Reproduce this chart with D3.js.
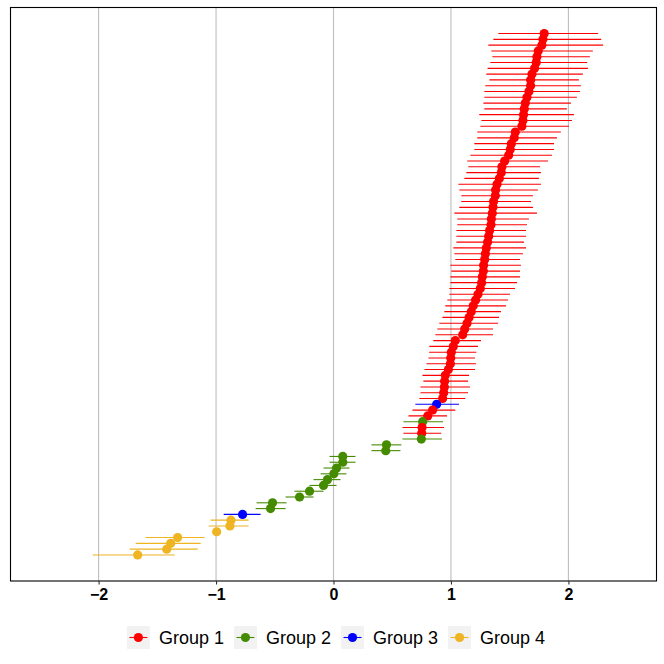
<!DOCTYPE html>
<html>
<head>
<meta charset="utf-8">
<script src="https://cdn.jsdelivr.net/npm/d3@7"></script>
<style>
  body { margin: 0; background: #fff; }
  svg { display: block; }
</style>
</head>
<body>
<div id="chart"></div>
<script>
// Point estimates, ordered top to bottom
const estimates = [
  1.794, 1.783, 1.774, 1.743, 1.732, 1.726, 1.712, 1.690, 1.678, 1.678,
  1.664, 1.647, 1.633, 1.624, 1.618, 1.613, 1.604, 1.548, 1.539, 1.514,
  1.505, 1.491, 1.457, 1.434, 1.429, 1.412, 1.392, 1.380, 1.378, 1.363,
  1.358, 1.352, 1.344, 1.341, 1.329, 1.321, 1.312, 1.301, 1.293, 1.287,
  1.278, 1.276, 1.267, 1.261, 1.250, 1.230, 1.210, 1.190, 1.173, 1.154,
  1.137, 1.117, 1.100, 1.037, 1.020, 1.003, 0.998, 0.995, 0.978, 0.952,
  0.946, 0.944, 0.938, 0.929, 0.878, 0.844, 0.802, 0.759, 0.754, 0.751,
  0.748, 0.451, 0.445, 0.079, 0.079, 0.026, 0.003, -0.051, -0.085, -0.204,
  -0.289, -0.519, -0.536, -0.774, -0.873, -0.882, -0.995, -1.327, -1.386, -1.420,
  -1.667
];

const lower = [
  1.403, 1.361, 1.318, 1.344, 1.352, 1.335, 1.312, 1.301, 1.327, 1.292,
  1.284, 1.284, 1.276, 1.284, 1.241, 1.259, 1.250, 1.224, 1.224, 1.199,
  1.199, 1.165, 1.139, 1.148, 1.131, 1.114, 1.063, 1.071, 1.088, 1.088,
  1.071, 1.029, 1.054, 1.054, 1.046, 1.046, 1.046, 1.020, 1.029, 1.037,
  0.995, 1.003, 0.995, 0.995, 0.986, 0.986, 0.969, 0.952, 0.944, 0.927,
  0.901, 0.884, 0.867, 0.850, 0.816, 0.814, 0.808, 0.791, 0.774, 0.757,
  0.765, 0.740, 0.740, 0.731, 0.697, 0.672, 0.638, 0.595, 0.587, 0.595,
  0.587, 0.323, 0.323, -0.034, -0.034, -0.085, -0.110, -0.170, -0.204, -0.332,
  -0.408, -0.655, -0.663, -0.935, -1.046, -1.063, -1.010, -1.599, -1.684, -1.735,
  -2.049
];

const upper = [
  2.253, 2.279, 2.296, 2.208, 2.183, 2.160, 2.166, 2.123, 2.089, 2.106,
  2.098, 2.072, 2.021, 1.987, 2.047, 2.030, 2.004, 1.936, 1.902, 1.877,
  1.877, 1.860, 1.826, 1.758, 1.766, 1.749, 1.766, 1.741, 1.698, 1.681,
  1.698, 1.732, 1.664, 1.647, 1.639, 1.639, 1.622, 1.639, 1.613, 1.588,
  1.596, 1.588, 1.588, 1.562, 1.545, 1.503, 1.486, 1.468, 1.426, 1.409,
  1.400, 1.358, 1.358, 1.256, 1.230, 1.216, 1.205, 1.213, 1.205, 1.154,
  1.145, 1.162, 1.145, 1.122, 1.069, 1.037, 0.967, 0.933, 0.941, 0.918,
  0.924, 0.578, 0.570, 0.187, 0.187, 0.136, 0.110, 0.060, 0.026, -0.085,
  -0.170, -0.400, -0.408, -0.621, -0.723, -0.723, -0.980, -1.097, -1.131, -1.156,
  -1.352
];

const groups = [
  1, 1, 1, 1, 1, 1, 1, 1, 1, 1,
  1, 1, 1, 1, 1, 1, 1, 1, 1, 1,
  1, 1, 1, 1, 1, 1, 1, 1, 1, 1,
  1, 1, 1, 1, 1, 1, 1, 1, 1, 1,
  1, 1, 1, 1, 1, 1, 1, 1, 1, 1,
  1, 1, 1, 1, 1, 1, 1, 1, 1, 1,
  1, 1, 1, 1, 3, 1, 1, 2, 1, 1,
  2, 2, 2, 2, 2, 2, 2, 2, 2, 2,
  2, 2, 2, 3, 4, 4, 4, 4, 4, 4,
  4
];

const groupNames = ["Group 1", "Group 2", "Group 3", "Group 4"];
const groupColors = ["#FF0000", "#458B00", "#0000FF", "#EEB422"];
const xTicks = [-2, -1, 0, 1, 2];

// Layout
const W = 664, H = 664;
const panel = { left: 10.5, right: 656.5, top: 7.5, bottom: 581 };

const svg = d3.select("#chart").append("svg")
  .attr("width", W)
  .attr("height", H);

const data = estimates.map((d, i) => ({
  row: i + 1,
  est: d,
  lo: lower[i],
  hi: upper[i],
  group: groups[i]
}));

const n = data.length;

const x = d3.scaleLinear()
  .domain([-2.75, 2.75])
  .range([panel.left, panel.right]);

// continuous y with 5% expansion, first row on top
const yPad = (n - 1) * 0.05;
const y = d3.scaleLinear()
  .domain([1 - yPad, n + yPad])
  .range([panel.top, panel.bottom]);

const color = d3.scaleOrdinal()
  .domain([1, 2, 3, 4])
  .range(groupColors);

// grid
svg.append("g")
  .selectAll("line")
  .data(xTicks)
  .join("line")
  .attr("x1", d => x(d)).attr("x2", d => x(d))
  .attr("y1", panel.top).attr("y2", panel.bottom)
  .attr("stroke", "#bebebe")
  .attr("stroke-width", 1.1);

// error bars
svg.append("g")
  .selectAll("line")
  .data(data)
  .join("line")
  .attr("x1", d => x(d.lo))
  .attr("x2", d => x(d.hi))
  .attr("y1", d => y(d.row))
  .attr("y2", d => y(d.row))
  .attr("stroke", d => color(d.group))
  .attr("stroke-width", 1.1);

// points
svg.append("g")
  .selectAll("circle")
  .data(data)
  .join("circle")
  .attr("cx", d => x(d.est))
  .attr("cy", d => y(d.row))
  .attr("r", 4.6)
  .attr("fill", d => color(d.group));

// panel border
svg.append("rect")
  .attr("x", panel.left)
  .attr("y", panel.top)
  .attr("width", panel.right - panel.left)
  .attr("height", panel.bottom - panel.top)
  .attr("fill", "none")
  .attr("stroke", "#000")
  .attr("stroke-width", 1.1);

// x axis
const xAxis = svg.append("g")
  .attr("transform", `translate(0,${panel.bottom})`)
  .call(d3.axisBottom(x).tickValues(xTicks).tickSize(3.5).tickPadding(4).tickFormat(d3.format("d")));

xAxis.select(".domain").remove();
xAxis.selectAll(".tick line").attr("stroke", "#333").attr("stroke-width", 1.1);
xAxis.selectAll(".tick text")
  .attr("fill", "#000")
  .style("font-family", "'Liberation Sans', Arial, sans-serif")
  .style("font-size", "16px")
  .style("font-weight", "bold");

// legend
const legend = svg.append("g");
const keySize = 23;
const items = legend.selectAll("g")
  .data(groupNames)
  .join("g");

items.append("rect")
  .attr("width", keySize)
  .attr("height", keySize)
  .attr("fill", "#f2f2f2");

items.append("line")
  .attr("x1", 2.5).attr("x2", keySize - 2.5)
  .attr("y1", keySize / 2).attr("y2", keySize / 2)
  .attr("stroke", (d, i) => groupColors[i])
  .attr("stroke-width", 1.1);

items.append("circle")
  .attr("cx", keySize / 2)
  .attr("cy", keySize / 2)
  .attr("r", 4.6)
  .attr("fill", (d, i) => groupColors[i]);

items.append("text")
  .attr("x", keySize + 9)
  .attr("y", keySize / 2)
  .attr("dy", "0.36em")
  .style("font-family", "'Liberation Sans', Arial, sans-serif")
  .style("font-size", "18px")
  .attr("fill", "#000")
  .text(d => d);

let offset = 0;
items.each(function() {
  const g = d3.select(this);
  g.attr("transform", `translate(${offset},0)`);
  const tw = g.select("text").node().getComputedTextLength();
  offset += keySize + 9 + tw + 10;
});
const legendWidth = offset - 10;
legend.attr("transform", `translate(${336 - legendWidth / 2},${626})`);
</script>
</body>
</html>
